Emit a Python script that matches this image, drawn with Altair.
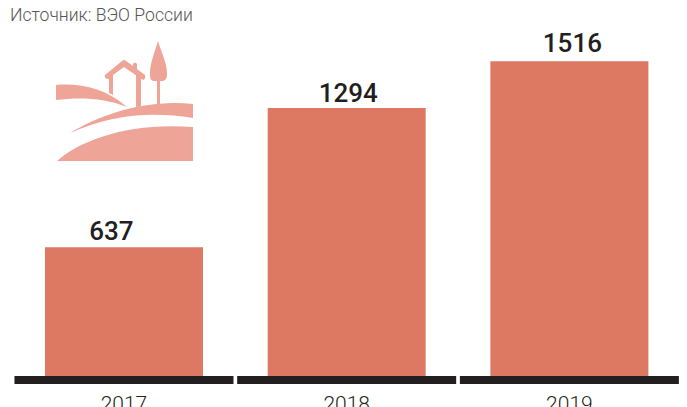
import altair as alt
import pandas as pd

years = ["2017", "2018", "2019"]
values = [637, 1294, 1516]
source_text = ["Источник: ВЭО России"]

BAR = "#dd7962"
ICON = "#eea497"
DARK = "#231f20"
# hand placement of each value label relative to its bar (dx, dy)
LABEL_NUDGE = [(-12.5, -7.5), (1.5, -6.5), (3, -9)]

icon_path = (
    "M56,85 C80,83 105,88 127,107 C105,98 80,97 56,100 Z "
    "M70,133 C100,115 145,99 193,104 L193,118 C150,111 110,115 70,133 Z "
    "M57,161 C80,140 130,122 193,127 L193,161 Z "
    "M105,75 L122,61 Q124,59 126,61 L133,66 L133,64 Q135,61 137,64 L137,69 L145,75 Q146,79 143,80 L124,67 L113,75 L113,95 L109,93 "
    "L109,79 Q104,79 105,75 Z "
    "M136,73 L141,77 L141,106 L136,107 Z "
    "M158,41 C161,52 167,62 167,74 C167,79 165,81 162,81 L160,81 L160,104 L157,104 L157,81 L154,81 "
    "C151,81 150,79 150,74 C150,62 155,52 158,41 Z"
)

df = pd.DataFrame({"year": years, "value": values})

x = alt.X(
    "year:N",
    title=None,
    scale=alt.Scale(domain=years, paddingInner=0.2905, paddingOuter=0.1517, align=0.547),
    axis=alt.Axis(
        domain=False, ticks=False, labelAngle=0, labelPadding=11,
        labelFont="Roboto", labelFontWeight=300, labelFontSize=21, labelColor=DARK,
    ),
)
y = alt.Y("value:Q", title=None, scale=alt.Scale(domain=[0, 1767]), axis=None)

bars = alt.Chart(df).mark_bar(color=BAR).encode(x=x, y=y)
labels = [
    alt.Chart(df.iloc[[i]]).mark_text(
        font="Roboto", fontWeight=500, fontSize=26, color=DARK, baseline="alphabetic",
        dx=LABEL_NUDGE[i][0], dy=LABEL_NUDGE[i][1],
    ).encode(x=x, y=y, text="value:Q")
    for i in range(len(years))
]
baseline = alt.Chart(df).mark_bar(color=DARK, width=219).encode(
    x=x, y=alt.value(368), y2=alt.value(376)
)
icon = alt.Chart(df.head(1)).mark_point(
    shape=icon_path, size=4, filled=True, fill=ICON, opacity=1, strokeWidth=0
).encode(x=alt.value(-8), y=alt.value(-8))
source = alt.Chart(pd.DataFrame({"t": source_text})).mark_text(
    font="Roboto", fontWeight=300, fontSize=17.6, color="#555555", align="left", baseline="alphabetic"
).encode(x=alt.value(2), y=alt.value(13), text="t:N")

chart = (
    alt.layer(bars, *labels, baseline, icon, source)
    .properties(
        width=671, height=374,
        padding={"left": 0, "top": 0, "right": 0, "bottom": 25},
        autosize=alt.AutoSizeParams(type="none"),
        background="white",
    )
    .configure_view(stroke=None)
)
chart.save("out.html", embed_options={"renderer": "svg", "actions": False})
